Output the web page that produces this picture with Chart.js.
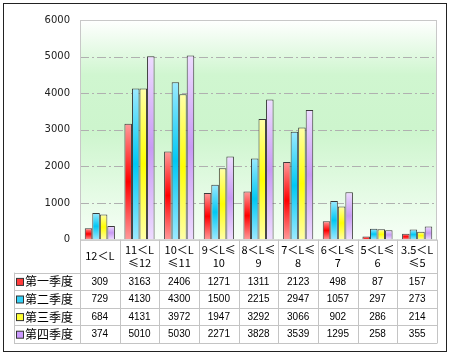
<!DOCTYPE html>
<html><head><meta charset="utf-8">
<script src="https://cdn.jsdelivr.net/npm/chart.js@4/dist/chart.umd.min.js"></script>
<style>html,body{margin:0;padding:0;background:#fff;}#wrap{width:450px;height:357px;position:relative;}</style>
</head><body><div id="wrap"><canvas id="c" width="450" height="357"></canvas></div>
<script>
const categories = [['12＜L'], ['11＜L','≤12'], ['10＜L','≤11'], ['9＜L≤','10'], ['8＜L≤','9'], ['7＜L≤','8'], ['6＜L≤','7'], ['5＜L≤','6'], ['3.5＜L','≤5']];
const seriesNames = ['第一季度','第二季度','第三季度','第四季度'];
const q1 = [309, 3163, 2406, 1271, 1311, 2123, 498, 87, 157];
const q2 = [729, 4130, 4300, 1500, 2215, 2947, 1057, 297, 273];
const q3 = [684, 4131, 3972, 1947, 3292, 3066, 902, 286, 214];
const q4 = [374, 5010, 5030, 2271, 3828, 3539, 1295, 258, 355];
const yMin = 0, yMax = 6000, yStep = 1000;

const palette = [
  ['#ff9a9a', '#ff0000', '#ff3b3b'],
  ['#9ceaff', '#00c8f4', '#33d2f8'],
  ['#ffffa8', '#ffff00', '#ffff33'],
  ['#eedcff', '#c89af4', '#cc99ff']
];
function barFill(cols){
  return (ctx) => {
    const chart = ctx.chart;
    const ys = chart.scales && chart.scales.y;
    if (!chart.chartArea || !ys || ctx.raw == null) return cols[1];
    const top = ys.getPixelForValue(ctx.raw), bot = ys.getPixelForValue(0);
    if (!isFinite(top) || !isFinite(bot) || bot - top < 1) return cols[1];
    const g = chart.ctx.createLinearGradient(0, top, 0, bot);
    g.addColorStop(0, cols[0]); g.addColorStop(0.5, cols[1]); g.addColorStop(1, cols[0]);
    return g;
  };
}
const series = [q1, q2, q3, q4];

const tablePlugin = {
  id: 'tablePlugin',
  beforeDatasetsDraw(chart){
    const {ctx, chartArea: a} = chart;
    const ys = chart.scales.y;
    ctx.save();
    const g = ctx.createLinearGradient(0, a.top, 0, a.bottom);
    g.addColorStop(0, '#ffffff');
    g.addColorStop(0.25, '#d0f6d0');
    g.addColorStop(0.5, '#cdf5cd');
    g.addColorStop(1, '#f6fff6');
    ctx.fillStyle = g;
    ctx.fillRect(a.left, a.top, a.right - a.left, a.bottom - a.top);
    // dashed grid lines
    ctx.strokeStyle = '#b0b0b0'; ctx.lineWidth = 1;
    ctx.setLineDash([9, 3, 2, 3]);
    ys.ticks.forEach(t => {
      if (t.value === yMin || t.value === yMax) return;
      const y = Math.round(ys.getPixelForValue(t.value)) + 0.5;
      ctx.beginPath(); ctx.moveTo(a.left, y); ctx.lineTo(a.right, y); ctx.stroke();
    });
    ctx.setLineDash([]);
    ctx.restore();
  },
  afterDraw(chart){
    const {ctx, chartArea: a} = chart;
    const xs = chart.scales.x;
    const n = categories.length;
    const cw = (a.right - a.left) / n;
    ctx.save();
    // plot border
    ctx.strokeStyle = '#c8c8c8'; ctx.lineWidth = 1;
    ctx.strokeRect(a.left + 0.5, a.top + 0.5, a.right - a.left - 1, a.bottom - a.top);
    // table geometry
    const headTop = a.bottom, headBot = a.bottom + 33;
    const rowH = 17.6;
    const legLeft = 14;
    const tBot = headBot + rowH * seriesNames.length;
    ctx.strokeStyle = '#c4c4c4';
    ctx.beginPath();
    ctx.moveTo(a.left, headTop + 0.5); ctx.lineTo(a.right, headTop + 0.5);
    for (let r = 0; r <= seriesNames.length; r++){
      const y = Math.round(headBot + r * rowH) + 0.5;
      ctx.moveTo(legLeft, y); ctx.lineTo(a.right, y);
    }
    for (let i = 0; i <= n; i++){
      const x = Math.round(a.left + i * cw) + 0.5;
      ctx.moveTo(x, headTop); ctx.lineTo(x, Math.round(tBot) + 0.5);
    }
    ctx.moveTo(legLeft + 0.5, headBot); ctx.lineTo(legLeft + 0.5, Math.round(tBot) + 0.5);
    ctx.stroke();
    // header labels
    ctx.fillStyle = '#000';
    ctx.textAlign = 'center'; ctx.textBaseline = 'middle';
    ctx.font = '11px "Noto Sans CJK SC"';
    const hc = (headTop + headBot) / 2;
    categories.forEach((lines, i) => {
      const x = xs.getPixelForValue(i);
      const lh = 13;
      const y0 = hc - (lines.length - 1) * lh / 2;
      lines.forEach((t, k) => ctx.fillText(t, x, y0 + k * lh));
    });
    // rows
    series.forEach((vals, r) => {
      const yc = headBot + r * rowH + rowH / 2 + 0.5;
      ctx.fillStyle = palette[r][2];
      ctx.fillRect(16.5, yc - 3.5, 7, 7);
      ctx.strokeStyle = '#333';
      ctx.strokeRect(16.5, yc - 3.5, 7, 7);
      ctx.fillStyle = '#000';
      ctx.textAlign = 'left';
      ctx.font = '12px "Noto Sans CJK SC"';
      ctx.fillText(seriesNames[r], 25, yc);
      ctx.textAlign = 'center';
      ctx.font = '10px "Liberation Sans"';
      vals.forEach((v, i) => ctx.fillText(String(v), xs.getPixelForValue(i), yc));
    });
    // outer border
    ctx.strokeStyle = '#222'; ctx.lineWidth = 1;
    ctx.strokeRect(3.5, 3.5, 443, 348);
    ctx.restore();
  }
};

new Chart(document.getElementById('c'), {
  type: 'bar',
  data: {
    labels: categories.map(l => l.join('')),
    datasets: series.map((vals, i) => ({
      label: seriesNames[i],
      data: vals,
      backgroundColor: barFill(palette[i]),
      borderColor: '#3a3a3a',
      borderWidth: 1,
      borderSkipped: 'bottom',
      categoryPercentage: 0.76,
      barPercentage: 1.0
    }))
  },
  options: {
    responsive: false,
    animation: false,
    devicePixelRatio: 1,
    layout: { padding: { left: 0, right: 13, top: 20, bottom: 14 } },
    plugins: { legend: { display: false }, tooltip: { enabled: false } },
    scales: {
      x: {
        ticks: { display: false },
        grid: { display: false },
        border: { display: false },
        afterFit(s){ s.height = 103.4; }
      },
      y: {
        min: yMin, max: yMax,
        ticks: { stepSize: yStep, padding: 10, color: '#222', font: { family: 'DejaVu Sans', size: 10 }, callback: (v) => String(v) },
        grid: { display: false, drawTicks: false },
        border: { display: false },
        afterFit(s){ s.width = 80; }
      }
    }
  },
  plugins: [tablePlugin]
});
</script>
</body></html>
